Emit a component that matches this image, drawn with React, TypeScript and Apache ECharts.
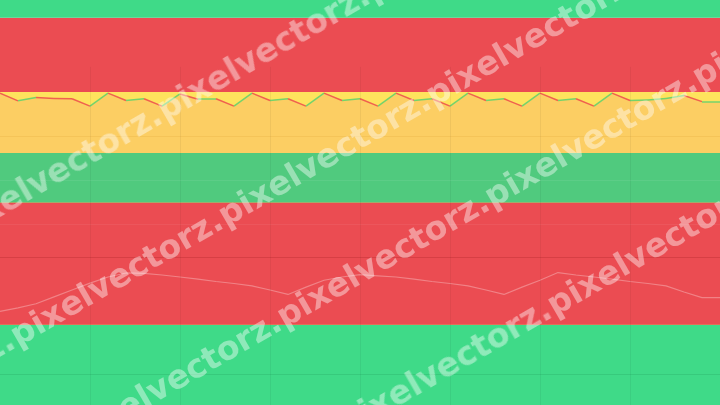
import React, { useEffect, useRef } from 'react';
import * as echarts from 'echarts';

// Horizontal bands (value ranges on the y axis) and their colours
const bandRanges: [number, number][] = [
  [0, 19.8],
  [19.8, 50],
  [50, 62.2],
  [62.2, 77.3],
  [77.3, 95.6],
  [95.6, 100],
];
const bandColors = ['#3FDA88', '#EB4C52', '#50CA7E', '#FEE35D', '#EB4C52', '#3FDA88'];
const lowerBandCount = 3; // bands below the zig-zag area

// Zig-zag series inside the yellow band (one point per x step)
const zigValues = [
  77.0, 75.1, 75.9, 75.7, 75.6, 73.8, 77.0, 75.2, 75.6, 73.8,
  76.8, 75.5, 75.6, 73.8, 77.0, 75.2, 75.6, 73.8, 77.0, 75.2,
  75.6, 73.8, 77.0, 75.2, 75.6, 73.8, 77.0, 75.2, 75.6, 73.8,
  77.0, 75.2, 75.6, 73.8, 77.0, 75.2, 75.3, 75.7, 76.4, 74.9, 74.9,
];

// Faint line inside the lower red band
const lowValues = [
  23.1, 24.0, 25.0, 26.7, 28.4, 30.1, 31.6, 32.6, 32.5, 32.1,
  31.6, 31.1, 30.5, 30.0, 29.4, 28.4, 27.3, 29.1, 30.8, 31.6,
  32.2, 31.9, 31.6, 31.1, 30.5, 30.0, 29.4, 28.4, 27.3, 29.1,
  30.8, 32.7, 32.1, 31.6, 31.1, 30.5, 30.0, 29.4, 27.9, 26.5, 26.5,
];

// Grid guide lines
const vLineX = [5, 10, 15, 20, 25, 30, 35];
const vLineTop = 83.5;
const hLineValues = [66.4, 55.6, 44.7, 36.5, 7.65];
const hLineColors = [
  'rgba(190,110,0,0.10)',
  'rgba(255,255,255,0.07)',
  'rgba(255,255,255,0.06)',
  'rgba(110,0,0,0.16)',
  'rgba(0,90,40,0.12)',
];

const watermarkText = 'pixelvectorz.';
const wmRows = [177, 298, 415, 540];
const wmWords = [-2, -1, 0, 1, 2];

export default function App() {
  const ref = useRef<HTMLDivElement>(null);

  useEffect(() => {
    if (!ref.current) return;
    const chart = echarts.init(ref.current, undefined, { renderer: 'svg' });

    const segs = zigValues.slice(0, -1).map((v, i) => {
      const n = zigValues[i + 1];
      return {
        coords: [
          [i, v],
          [i + 1, n],
        ],
        lineStyle: { color: n < v ? '#F0604F' : '#74D36C' },
      };
    });

    const bandArea = (from: number, to: number) =>
      bandRanges.slice(from, to).map((r, k) => [
        { yAxis: r[0], itemStyle: { color: bandColors[from + k], opacity: 1 } },
        { yAxis: r[1] },
      ]);

    const cos = Math.cos(Math.PI / 6);
    const sin = Math.sin(Math.PI / 6);
    const graphics: any[] = [];
    wmRows.forEach((c) => {
      wmWords.forEach((j) => {
        const u = 202 + 240 * j;
        const x = u * cos + c * sin;
        const y = -u * sin + c * cos;
        graphics.push({
          type: 'text',
          x,
          y,
          rotation: Math.PI / 6,
          z: 100,
          silent: true,
          style: {
            text: watermarkText,
            fill: 'rgba(255,255,255,0.42)',
            fontSize: 33,
            fontWeight: 'bold',
            fontFamily: 'DejaVu Sans',
            textAlign: 'center',
            textVerticalAlign: 'middle',
            align: 'center',
            verticalAlign: 'middle',
            shadowColor: 'rgba(0,0,0,0.4)',
            shadowBlur: 1,
            shadowOffsetX: 1,
            shadowOffsetY: 1.5,
          },
        });
      });
    });

    chart.setOption({
      animation: false,
      grid: { left: 0, right: 0, top: 0, bottom: 0 },
      xAxis: {
        type: 'value',
        min: 0,
        max: 40,
        show: false,
        splitLine: { show: false },
      },
      yAxis: {
        type: 'value',
        min: 0,
        max: 100,
        show: false,
        splitLine: { show: false },
      },
      graphic: graphics,
      series: [
        {
          name: 'upperBands',
          type: 'line',
          data: [],
          z: 1,
          silent: true,
          markArea: { silent: true, z: 1, data: bandArea(lowerBandCount, bandRanges.length) },
        },
        {
          name: 'zigArea',
          type: 'line',
          z: 2,
          symbol: 'none',
          silent: true,
          lineStyle: { opacity: 0 },
          areaStyle: { color: '#FCCE63', opacity: 1, origin: 'start' },
          data: zigValues.map((v, i) => [i, v]),
        },
        {
          name: 'lowerBands',
          type: 'line',
          data: [],
          z: 3,
          silent: true,
          markArea: { silent: true, z: 3, data: bandArea(0, lowerBandCount) },
        },
        {
          name: 'zigLine',
          type: 'lines',
          coordinateSystem: 'cartesian2d',
          z: 4,
          silent: true,
          polyline: false,
          lineStyle: { width: 1.5, opacity: 1 },
          data: segs,
        },
        {
          name: 'low',
          type: 'line',
          z: 4,
          symbol: 'none',
          silent: true,
          lineStyle: { color: 'rgba(255,255,255,0.3)', width: 1.2 },
          data: lowValues.map((v, i) => [i, v]),
        },
        {
          name: 'guides',
          type: 'line',
          data: [],
          z: 5,
          silent: true,
          markLine: {
            silent: true,
            z: 5,
            symbol: ['none', 'none'],
            label: { show: false },
            data: [
              ...vLineX.map((x) => [
                { coord: [x, vLineTop], lineStyle: { color: 'rgba(0,0,0,0.05)', width: 1, type: 'solid' } },
                { coord: [x, 0] },
              ]),
              ...hLineValues.map((v, i) => ({
                yAxis: v,
                lineStyle: { color: hLineColors[i], width: 1, type: 'solid' },
              })),
            ],
          },
        },
      ],
    });

    return () => chart.dispose();
  }, []);

  return (
    <div
      ref={ref}
      style={{ position: 'fixed', left: 0, top: 0, width: 720, height: 405 }}
    />
  );
}
